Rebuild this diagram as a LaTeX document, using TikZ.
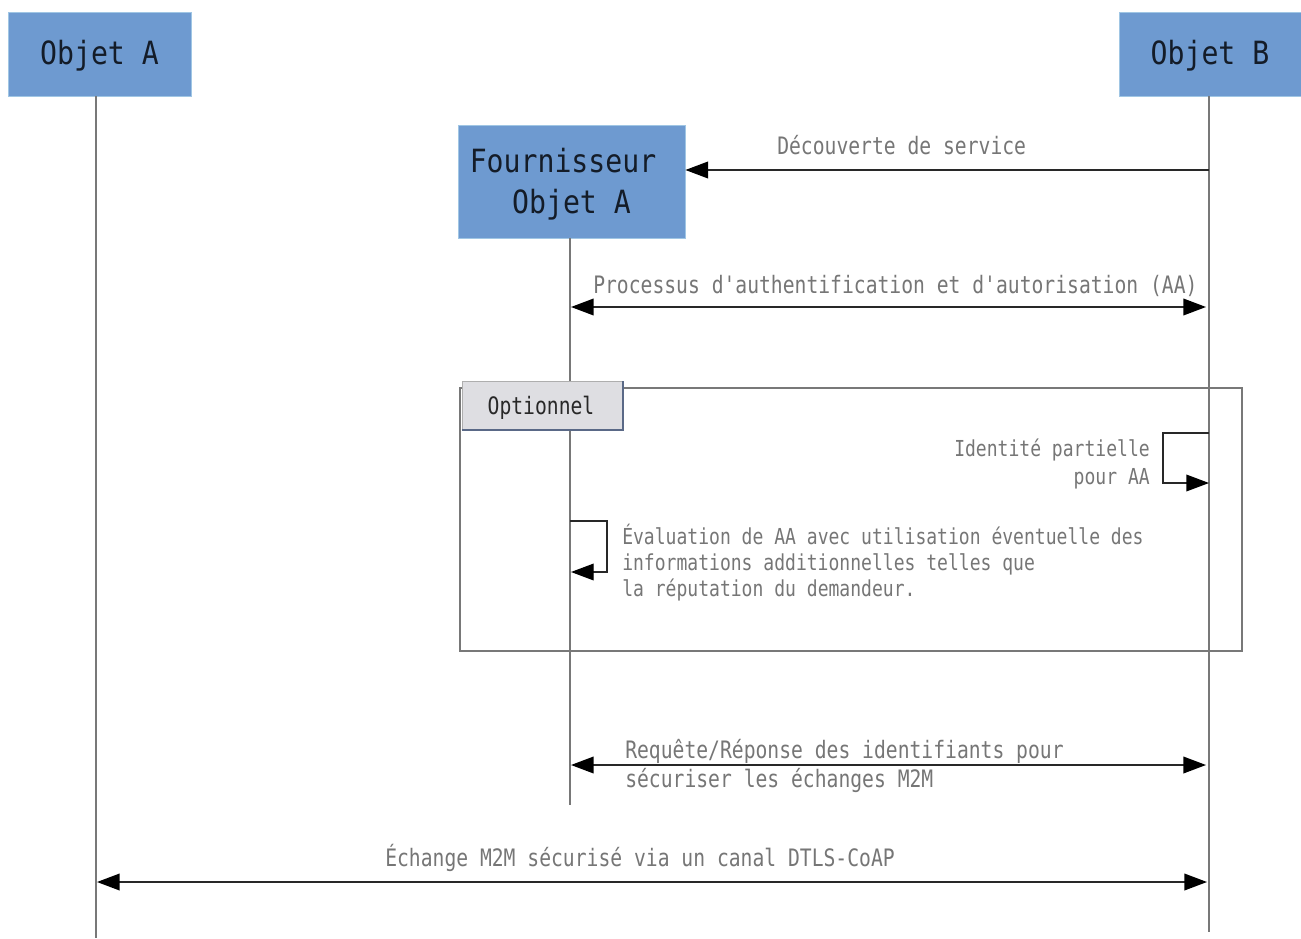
\documentclass[tikz,border=0pt]{standalone}
\usepackage{fontspec}
\usetikzlibrary{arrows.meta}
\newfontfamily\hdrfont[FakeStretch=0.88]{DejaVu Sans Mono}
\newfontfamily\msgfont[FakeStretch=0.82]{DejaVu Sans Mono}
\definecolor{objblue}{RGB}{110,154,208}
\definecolor{objedge}{RGB}{160,198,228}
\definecolor{hdrtext}{RGB}{20,28,40}
\definecolor{msgtext}{RGB}{118,118,118}
\definecolor{lifegray}{RGB}{120,120,120}
\definecolor{arrowgray}{RGB}{40,40,40}
\definecolor{framegray}{RGB}{120,120,120}
\definecolor{tabfill}{RGB}{222,222,226}
\definecolor{tabedge}{RGB}{90,105,135}
\definecolor{tabtext}{RGB}{40,40,40}

% lowers the ink of a label without changing its box
\newcommand\lowered[2]{\raisebox{-#1}[\height][\depth]{#2}}

\tikzset{
  objbox/.style={fill=objblue, draw=objedge, line width=0.6pt, inner sep=0pt,
    font=\hdrfont\fontsize{24}{30.75}\selectfont, text=hdrtext, align=center},
  lifeline/.style={draw=lifegray, line width=0.9pt},
  msgline/.style={draw=arrowgray, line width=1.2pt},
  loopline/.style={draw=arrowgray, line width=1pt},
  tipend/.style={-{Triangle[length=17pt,width=12.5pt,color=black]}},
  bothtips/.style={{Triangle[length=17pt,width=12.5pt,color=black]}-{Triangle[length=17pt,width=12.5pt,color=black]}},
  msg/.style={inner sep=0pt, text=msgtext, font=\msgfont\fontsize{18}{24}\selectfont},
  smallmsg/.style={inner sep=0pt, text=msgtext, font=\msgfont\fontsize{16.5}{20}\selectfont},
  tabbox/.style={fill=tabfill, draw=framegray!60, line width=0.6pt, inner sep=0pt,
    minimum width=120.75pt, minimum height=36.75pt, text=tabtext,
    font=\msgfont\fontsize{18}{24}\selectfont},
}

\begin{document}
\begin{tikzpicture}[x=0.75pt,y=-0.75pt]
  \useasboundingbox[fill=white] (0,0) rectangle (1301,938);

  % participants
  \node[objbox, minimum width=137.25pt, minimum height=63pt] (objA) at (99.5,54)
    {\lowered{1.5pt}{Objet A}};
  \node[objbox, minimum width=136.5pt, minimum height=63pt] (objB) at (1210,54)
    {\lowered{1.5pt}{Objet B}};
  \node[objbox, minimum width=170.25pt, minimum height=84.75pt] (prov) at (571.5,181.5)
    {\lowered{2.25pt}{Fournisseur\phantom{x}}\\\lowered{2.25pt}{Objet A}};

  % lifeline ends
  \coordinate (aEnd) at (96,938);
  \coordinate (bEnd) at (1209,932);
  \coordinate (pEnd) at (570,805);

  \draw[lifeline] (objA.south -| aEnd) -- (aEnd);
  \draw[lifeline] (objB.south -| bEnd) -- (bEnd);
  \draw[lifeline] (prov.south -| pEnd) -- (pEnd);

  % service discovery
  \coordinate (bDisc) at (1209,170);
  \draw[msgline, tipend] (bDisc) -- (bDisc -| prov.east);
  \node[msg, anchor=base west] (tDisc) at (777,154) {Découverte de service};

  % authentication and authorisation
  \coordinate (pAA) at (571,307);
  \coordinate (bAA) at (1206,307);
  \draw[msgline, bothtips] (pAA) -- (bAA);
  \node[msg, anchor=base west] (tAA) at (593,293)
    {Processus d'authentification et d'autorisation (AA)};

  % optional fragment
  \draw[draw=framegray, line width=1.1pt] (460,388) rectangle (1242,651);
  \node[tabbox] (tab) at (542.5,405.5) {};
  \draw[draw=tabedge, line width=1.5pt] (tab.south west) -- (tab.south east) -- (tab.north east);
  \node[msg, text=tabtext, anchor=base] (tTab) at (541,414) {Optionnel};

  % partial identity (self message on B)
  \coordinate (bIdTop) at (1209,433);
  \coordinate (bIdBot) at (1209,483);
  \draw[loopline, tipend] (bIdTop) -- (1163,433) -- (1163,483) -- (bIdBot);
  \node[smallmsg, anchor=base east] (tId1) at (1150,456) {Identité partielle};
  \node[smallmsg, anchor=base east] (tId2) at (1150,484) {pour AA};

  % evaluation (self message on provider)
  \coordinate (pEvTop) at (570,521);
  \coordinate (pEvBot) at (571,572);
  \draw[loopline, tipend] (pEvTop) -- (607,521) -- (607,572) -- (pEvBot);
  \node[smallmsg, anchor=base west] (tEv1) at (622,544)
    {Évaluation de AA avec utilisation éventuelle des};
  \node[smallmsg, anchor=base west] (tEv2) at (622,570)
    {informations additionnelles telles que};
  \node[smallmsg, anchor=base west] (tEv3) at (622,596)
    {la réputation du demandeur.};

  % credentials request / response
  \coordinate (pReq) at (571,765);
  \coordinate (bReq) at (1206,765);
  \draw[msgline, bothtips] (pReq) -- (bReq);
  \node[msg, anchor=base west] (tReq1) at (625,758) {Requête/Réponse des identifiants pour};
  \node[msg, anchor=base west] (tReq2) at (625,787) {sécuriser les échanges M2M};

  % secured exchange
  \coordinate (aEx) at (97,882);
  \coordinate (bEx) at (1207,882);
  \draw[msgline, bothtips] (aEx) -- (bEx);
  \node[msg, anchor=base west] (tEx) at (385,866) {Échange M2M sécurisé via un canal DTLS-CoAP};
\end{tikzpicture}
\end{document}
